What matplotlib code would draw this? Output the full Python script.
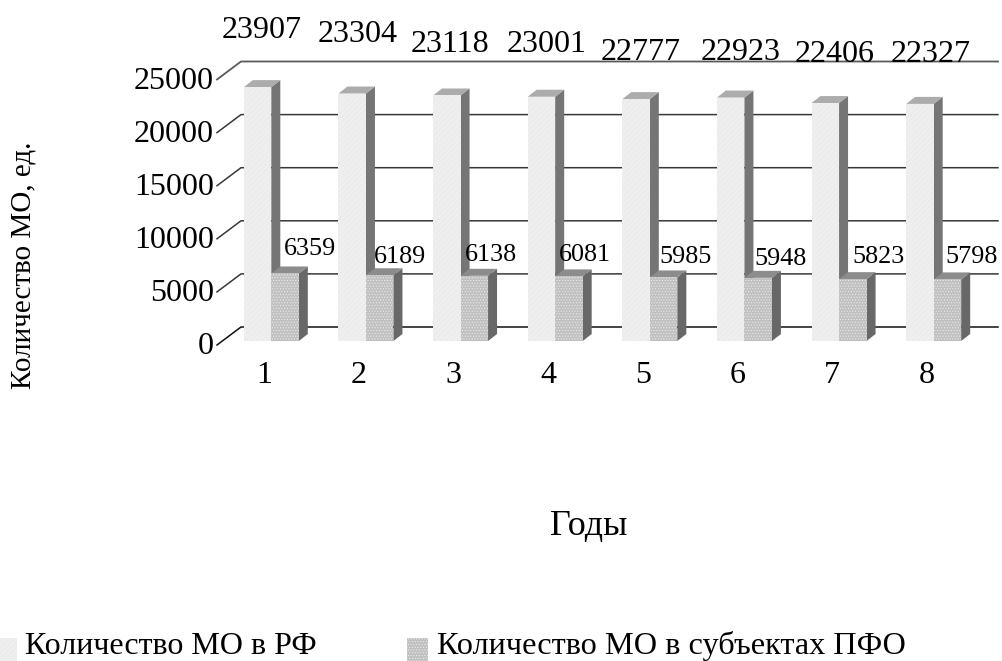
import matplotlib
matplotlib.use('Agg')
import matplotlib.pyplot as plt
from matplotlib.patches import Polygon

plt.rcParams['font.family'] = ['Liberation Serif']
plt.rcParams['hatch.linewidth'] = 0.5

years = [1, 2, 3, 4, 5, 6, 7, 8]
mo_rf = [23907, 23304, 23118, 23001, 22777, 22923, 22406, 22327]
mo_pfo = [6359, 6189, 6138, 6081, 5985, 5948, 5823, 5798]
y_ticks = [0, 5000, 10000, 15000, 20000, 25000]

# where the data labels sit in the picture (pixels)
label_rf_x = [262, 358, 450, 547, 641, 741, 835, 931]
label_rf_y = [30, 35, 44, 45, 52, 52, 54, 54]
label_pfo_x = [310, 400, 491, 585, 686, 781, 879, 972]
label_pfo_y = [249, 257, 255, 255, 257, 259, 257, 257]

W, H = 1002, 661
fig = plt.figure(figsize=(W / 100, H / 100), dpi=100)

# axes = front plane of the fake 3d box, 217..974 px wide, 0 sits at y=345 px
left, right, y0, y25 = 217, 974, 345, 79.5
ax = fig.add_axes([left / W, 1 - y0 / H, (right - left) / W, (y0 - y25) / H])
ax.set_xlim(0.5, 8.5)
ax.set_ylim(0, 25000)
ax.axis('off')

px_x = 8 / (right - left)
px_y = 25000 / (y0 - y25)

# back wall grid, top line is a bit heavier and the zero line darker
wall_dx = 24 * px_x
wall_dy = 18 * px_y
for t in y_ticks:
    col = '#5a5a5a' if t == 25000 else ('#111111' if t == 0 else '#383838')
    ax.plot([0.5, 0.5 + wall_dx, 8.5 + wall_dx], [t, t + wall_dy, t + wall_dy],
            color=col, lw=1.3 if t == 25000 else 1.1, clip_on=False, zorder=1)
    ax.text(0.5 - 3 * px_x, t - 2 * px_y, str(t), ha='right', va='center', fontsize=23, clip_on=False)

bar_w = 27.5 * px_x
dx = 9 * px_x
dy = 7 * px_y
base = 4 * px_y


def draw_bar(x, val, front, hatch, hatch_col, side, top):
    z = 3 + x
    ax.add_patch(Polygon([(x + bar_w, base), (x + bar_w + dx, base + dy), (x + bar_w + dx, val + dy),
                          (x + bar_w, val)], fc=side, ec='none', zorder=z, clip_on=False))
    ax.add_patch(Polygon([(x, val), (x + dx, val + dy), (x + bar_w + dx, val + dy), (x + bar_w, val)],
                         fc=top, ec='none', zorder=z, clip_on=False))
    ax.add_patch(Polygon([(x, base), (x + bar_w, base), (x + bar_w, val), (x, val)],
                         fc=front, ec=hatch_col, hatch=hatch, lw=0, zorder=z, clip_on=False))


for yr, a, b in zip(years, mo_rf, mo_pfo):
    x1 = yr - 20.5 * px_x
    x2 = x1 + bar_w
    draw_bar(x1, a + base, '#ececec', '//////', '#f4f4f4', '#757575', '#acacac')
    draw_bar(x2, b + base, '#c0c0c0', '......', '#ebebeb', '#686868', '#8c8c8c')
    ax.text(yr, -2850, str(yr), ha='center', va='center', fontsize=23, clip_on=False)

for i in range(len(years)):
    fig.text(label_rf_x[i] / W, 1 - label_rf_y[i] / H, str(mo_rf[i]), ha='center', va='center', fontsize=23)
    fig.text(label_pfo_x[i] / W, 1 - label_pfo_y[i] / H, str(mo_pfo[i]), ha='center', va='center', fontsize=18.8)

fig.text(24 / W, 1 - 265 / H, 'Количество МО, ед.', rotation=90, ha='center', va='center', fontsize=21)
fig.text(589 / W, 1 - 526 / H, 'Годы', ha='center', va='center', fontsize=26)

# legend along the bottom edge
fig.add_artist(plt.Rectangle((0, 0), 17 / W, 23 / H, transform=fig.transFigure, fc='#ececec', hatch='//////', ec='#f4f4f4', lw=0))
fig.add_artist(plt.Rectangle((407 / W, 0), 21 / W, 23 / H, transform=fig.transFigure, fc='#c0c0c0', hatch='......', ec='#ebebeb', lw=0))
fig.text(25 / W, 1 - 654 / H, 'Количество МО в РФ', ha='left', va='baseline', fontsize=23)
fig.text(437 / W, 1 - 654 / H, 'Количество МО в субъектах ПФО', ha='left', va='baseline', fontsize=23.2)

fig.savefig('out.png', dpi=100)
